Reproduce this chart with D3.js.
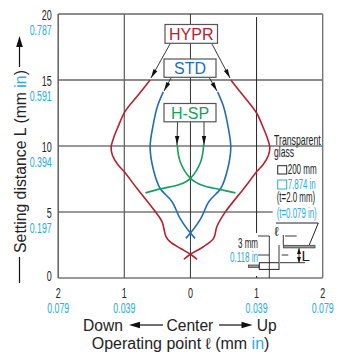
<!DOCTYPE html>
<html><head><meta charset="utf-8">
<script src="https://cdn.jsdelivr.net/npm/d3@7"></script>
<style>html,body{margin:0;padding:0;background:#fff}svg{display:block}
text{font-family:"Liberation Sans",Arial,sans-serif}</style></head><body>
<svg id="c" width="341" height="354"></svg>
<script>
const yTicksMm=[0,5,10,15,20];
const yTicksIn=["","0.197","0.394","0.591","0.787"];
const xTicksMm=[2,1,0,1,2];
const xTickPos=[-2,-1,0,1,2];
const xTicksIn=["0.079","0.039","","0.039","0.079"];
const hyprLeftX=[-0.61,-0.8,-0.99,-1.1,-1.17,-1.2,-1.18,-1.1,-1.01,-0.81,-0.55,-0.43,-0.37,-0.31,-0.155,0,0.1];
const hyprLeftL=[15,13.8,12.6,11.4,10.5,9.9,9.3,8.6,8.1,6.8,5.15,4.27,3.13,2.75,2.25,1.8,1.42];
const hyprRightX=[0.61,0.8,1.0,1.1,1.17,1.2,1.18,1.1,1.01,0.81,0.52,0.4,0.35,0.19,0,-0.1];
const hyprRightL=[15,13.8,12.5,11.4,10.5,9.9,9.3,8.6,8.1,6.8,4.95,3.9,3.0,2.35,1.8,1.42];
const stdLeftX=[-0.41,-0.5,-0.56,-0.61,-0.56,-0.46,-0.28,-0.155,0,0.07];
const stdLeftL=[14.1,13,11.7,9.9,8.2,6.8,5.8,4.5,3.4,3.0];
const stdRightX=[0.41,0.5,0.56,0.61,0.56,0.46,0.28,0.155,0,-0.07];
const stdRightL=[14.1,13,11.7,9.9,8.2,6.8,5.8,4.5,3.4,3.0];
const spLeftX=[-0.68,-0.46,-0.155,0,0.155,0.2];
const spLeftL=[6.45,6.75,7.1,7.55,8.8,10.1];
const spRightX=[0.68,0.45,0.19,0,-0.155,-0.2];
const spRightL=[6.45,6.7,7.0,7.55,8.8,10.1];
const RED="#b5212f",BLUE="#1f6db8",GREEN="#16a05a",CY="#29abe2",INK="#222";

const svg=d3.select("#c");
const x=d3.scaleLinear().domain([-2,2]).range([58.2,322.7]);
const y=d3.scaleLinear().domain([0,20]).range([278,14]);
const line=(a,b,c,d,col,w)=>svg.append("line").attr("x1",a).attr("y1",b).attr("x2",c).attr("y2",d).attr("stroke",col||"#222").attr("stroke-width",w||1);
// squeeze a text horizontally to a given width
const fit=(t,tx,ty,len,rot)=>{const n=t.node().getComputedTextLength();
 t.attr("transform",`translate(${tx},${ty})${rot?` rotate(${rot})`:""} scale(${(len||n)/n},1)`);return t;};
const txt=(s,px,py,size,col,anchor,len)=>{const t=svg.append("text").attr("font-size",size).attr("fill",col||INK).attr("text-anchor",anchor||"start").text(s);
 return fit(t,px,py,len);};

// grid
[0,5,10,15,20].forEach(v=>line(x(-2),y(v),v===5?272.7:x(2),y(v),v===15||v===20?"#666":"#333",v===15||v===20?1.5:1));
line(x(-2),y(0),x(-2),y(20),"#555",1.4);
line(x(2),y(0),x(2),y(20),"#777",1.4);
line(x(-1),y(0),x(-1),y(20),"#666",1.3);
line(x(0),y(0),x(0),y(20),"#333",1);
line(x(1),y(20)+3,x(1),233,"#222",1);
line(x(1),276,x(1),y(0),"#222",1);

// curves
const gen=d3.line().x(d=>x(d[0])).y(d=>y(d[1])).curve(d3.curveCatmullRom.alpha(0.5));
const draw=(xs,ls,col,w)=>svg.append("path").attr("d",gen(d3.zip(xs,ls))).attr("fill","none").attr("stroke",col).attr("stroke-width",w||1.6);
draw(hyprLeftX,hyprLeftL,RED);draw(hyprRightX,hyprRightL,RED);
draw(stdLeftX,stdLeftL,BLUE);draw(stdRightX,stdRightL,BLUE);
draw(spLeftX,spLeftL,GREEN);draw(spRightX,spRightL,GREEN);

// arrows
const arrow=(a,b,c,d)=>{line(a,b,c,d,"#222",0.9);const ang=Math.atan2(d-b,c-a),l=9,h=2.2;
 const bx=c-l*Math.cos(ang),by=d-l*Math.sin(ang);
 svg.append("polygon").attr("points",[[c,d],[bx-h*Math.sin(ang),by+h*Math.cos(ang)],[bx+h*Math.sin(ang),by-h*Math.cos(ang)]].join(" ")).attr("fill","#111");};
arrow(170,44,151,78);arrow(212,44,230,78);
arrow(171,78,164,91);arrow(209.5,78,217,91);
arrow(177.5,122,177,145);arrow(204,122,204,145);

// boxes
const box=(a,b,w,h,s,col,by)=>{svg.append("rect").attr("x",a).attr("y",b).attr("width",w).attr("height",h).attr("fill","#fff").attr("stroke","#555").attr("stroke-width",1.2);
 txt(s,a+w/2,by,16,col,"middle");};
box(165,24.5,52.5,18.8,"HYPR",RED,40);
box(164,59,52,18.3,"STD",BLUE,74);
box(164,103.5,52,18.3,"H-SP",GREEN,118.7);

// y tick labels
yTicksMm.forEach((v,i)=>{txt(v,51.7,y(v)+(v==0?3:5.8),15,INK,"end",v<10?5:10);
 if(yTicksIn[i])txt(yTicksIn[i],51.7,y(v)+21,15,CY,"end",22);});
// x tick labels
xTickPos.forEach((p,i)=>{txt(xTicksMm[i],x(p),298,15,INK,"middle",5);
 if(xTicksIn[i])txt(xTicksIn[i],x(p),313,15,CY,"middle",22);});

// y title
const yt=svg.append("text").attr("font-size",15.6).attr("text-anchor","middle").attr("fill",INK);
yt.append("tspan").text("Setting distance L (mm ");
yt.append("tspan").attr("fill",CY).text("in");
yt.append("tspan").text(")");
fit(yt,25.5,161.5,183,-90);
line(19.5,283,19.5,257,"#111",1.2);
line(19.5,67,19.5,46,"#111",1.2);
svg.append("polygon").attr("points","19.5,36 16.2,47 22.8,47").attr("fill","#111");

// x titles
txt("Down",83,331,15.6,INK);
txt("Center",166.5,331,15.6,INK);
txt("Up",256.7,331,15.6,INK);
line(138,325,163,325,"#111",1.2);
svg.append("polygon").attr("points","129,325 140,321.8 140,328.2").attr("fill","#111");
line(219,325,243,325,"#111",1.2);
svg.append("polygon").attr("points","252.5,325 241.5,321.8 241.5,328.2").attr("fill","#111");
const xt=svg.append("text").attr("font-size",15.6).attr("fill",INK);
xt.append("tspan").text("Operating point \u2113 (mm ");
xt.append("tspan").attr("fill",CY).text("in");
xt.append("tspan").text(")");
fit(xt,91.7,349,177.7);

// side note
txt("Transparent",274,145,14,INK,"start",46.7);
txt("glass",274,157,14,INK,"start",20);
svg.append("rect").attr("x",277.7).attr("y",165.7).attr("width",9).attr("height",8.3).attr("fill","none").attr("stroke","#222");
txt("200 mm",287.7,173.5,14,INK,"start",29);
svg.append("rect").attr("x",277.7).attr("y",180).attr("width",9).attr("height",9).attr("fill","none").attr("stroke",CY);
txt("7.874 in",287.7,188.5,14,CY,"start",28);
txt("(t=2.0 mm)",276.7,201.7,14,INK,"start",38.5);
txt("(t=0.079 in)",276.7,217.5,14,CY,"start",40);

// sensor diagram
line(276,223,318.3,223,"#222",1);
line(318.3,223,309.3,245,"#222",1);
svg.append("rect").attr("x",283.3).attr("y",245.3).attr("width",31.7).attr("height",2.6).attr("fill","#999").attr("stroke","#333").attr("stroke-width",.7);
svg.append("rect").attr("x",248.3).attr("y",265).attr("width",10.7).attr("height",2.4).attr("fill","#999").attr("stroke","#333").attr("stroke-width",.7);
svg.append("rect").attr("x",259.3).attr("y",262.7).attr("width",19.7).attr("height",6.7).attr("fill","#fff").attr("stroke","#222");
line(269.3,236,269.3,278,"#222",.9);
line(283.3,235,283.3,245,"#222",.9);
line(285,236,296.7,236,"#222",.9);
line(258,236,269.3,236,"#222",.9);
txt("\u2113",276.7,236,13,INK,"middle");
line(258,255,269.3,255,"#222",.9);
line(279,245,279,262,"#222",.9);
line(281.7,255,288.3,255,"#222",.9);
line(299,248.3,299,262.7,"#222",.9);
line(280,262.7,305,262.7,"#222",.9);
svg.append("polygon").attr("points","299,248 297,254 301,254").attr("fill","#111");
svg.append("polygon").attr("points","299,262.7 297,257 301,257").attr("fill","#111");
txt("L",301.5,260.7,15,INK);
txt("3 mm",238,248.3,14,INK,"start",20);
txt("0.118 in",230,262.3,14,CY,"start",28);
</script></body></html>
